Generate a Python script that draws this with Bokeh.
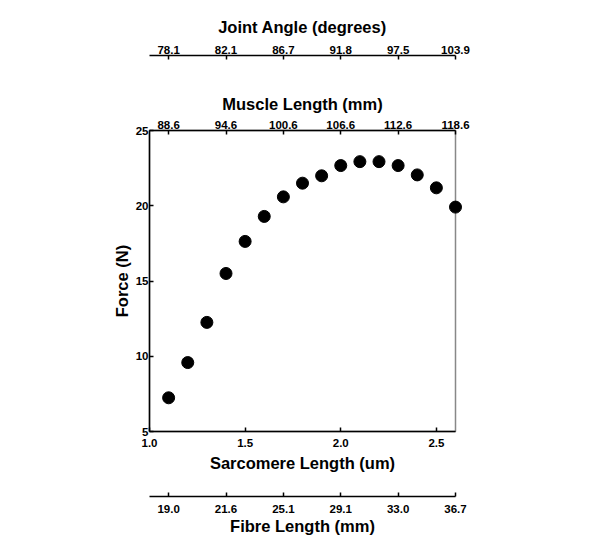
from bokeh.plotting import figure
from bokeh.models import LinearAxis, FixedTicker
from bokeh.embed import file_html
from bokeh.resources import INLINE

# ---- data ----
sarcomere_length = [1.1, 1.2, 1.3, 1.4, 1.5, 1.6, 1.7, 1.8, 1.9, 2.0, 2.1, 2.2, 2.3, 2.4, 2.5, 2.6]
force = [7.24, 9.58, 12.25, 15.50, 17.63, 19.29, 20.59, 21.50, 21.99, 22.67, 22.93, 22.93, 22.67, 22.05, 21.19, 19.91]

sarcomere_ticks = [1.0, 1.5, 2.0, 2.5]
force_ticks = [5, 10, 15, 20, 25]
secondary_tick_positions = [1.1, 1.4, 1.7, 2.0, 2.3, 2.6]
muscle_labels = ["88.6", "94.6", "100.6", "106.6", "112.6", "118.6"]
joint_labels = ["78.1", "82.1", "86.7", "91.8", "97.5", "103.9"]
fibre_labels = ["19.0", "21.6", "25.1", "29.1", "33.0", "36.7"]

FONT = "Liberation Sans"
TICK_FS = "11.5px"
LABEL_FS = "16.5px"

p = figure(width=579, height=540, x_range=(1.0, 2.6), y_range=(5, 25),
           output_backend="svg", toolbar_location=None,
           x_axis_location=None, y_axis_location=None,
           min_border_left=149, min_border_right=124,
           min_border_top=130, min_border_bottom=109)
p.grid.visible = False
p.outline_line_color = "#888888"
p.outline_line_width = 1.5
p.background_fill_color = "white"
p.border_fill_color = "white"


def style_axis(ax, ticks, labels=None, label_standoff=3, axis_label_standoff=6):
    ax.ticker = FixedTicker(ticks=ticks)
    if labels is not None:
        ax.major_label_overrides = {t: l for t, l in zip(ticks, labels)}
    ax.axis_line_color = "black"
    ax.axis_line_width = 1.5
    ax.major_tick_line_color = "black"
    ax.major_tick_line_width = 1.5
    ax.major_tick_in = 4
    ax.major_tick_out = 0
    ax.minor_tick_line_color = None
    ax.major_label_text_font = FONT
    ax.major_label_text_font_style = "bold"
    ax.major_label_text_font_size = TICK_FS
    ax.major_label_text_color = "black"
    ax.major_label_standoff = label_standoff
    ax.axis_label_text_font = FONT
    ax.axis_label_text_font_style = "bold"
    ax.axis_label_text_font_size = LABEL_FS
    ax.axis_label_text_color = "black"
    ax.axis_label_standoff = axis_label_standoff
    return ax


def spacer(px):
    return LinearAxis(ticker=FixedTicker(ticks=[]), axis_line_color=None,
                      major_tick_line_color=None, minor_tick_line_color=None,
                      major_label_text_font_size="0px", major_tick_in=0, major_tick_out=0,
                      major_label_standoff=0, axis_label=" ",
                      axis_label_text_font_size=f"{px}px", axis_label_standoff=0)


# left axis
y_ax = style_axis(LinearAxis(axis_label="Force (N)"), force_ticks, label_standoff=1, axis_label_standoff=2)
p.add_layout(y_ax, "left")

# top axes: muscle length (adjacent), spacer, joint angle
muscle_ax = style_axis(LinearAxis(axis_label="Muscle Length (mm)"), secondary_tick_positions, muscle_labels,
                       label_standoff=2, axis_label_standoff=5)
p.add_layout(muscle_ax, "above")
p.add_layout(spacer(30), "above")
joint_ax = style_axis(LinearAxis(axis_label="Joint Angle (degrees)"), secondary_tick_positions, joint_labels,
                      label_standoff=2, axis_label_standoff=7)
p.add_layout(joint_ax, "above")

# bottom axes: sarcomere (adjacent), spacer, fibre length
sarc_ax = style_axis(LinearAxis(axis_label="Sarcomere Length (um)"), sarcomere_ticks,
                     [f"{t:.1f}" for t in sarcomere_ticks], label_standoff=7, axis_label_standoff=4)
p.add_layout(sarc_ax, "below")
p.add_layout(spacer(17), "below")
fibre_ax = style_axis(LinearAxis(axis_label="Fibre Length (mm)"), secondary_tick_positions, fibre_labels,
                      label_standoff=8, axis_label_standoff=1)
p.add_layout(fibre_ax, "below")

p.scatter(sarcomere_length, force, size=12, color="black", level="overlay")

open("out.html", "w").write(file_html(p, INLINE))
